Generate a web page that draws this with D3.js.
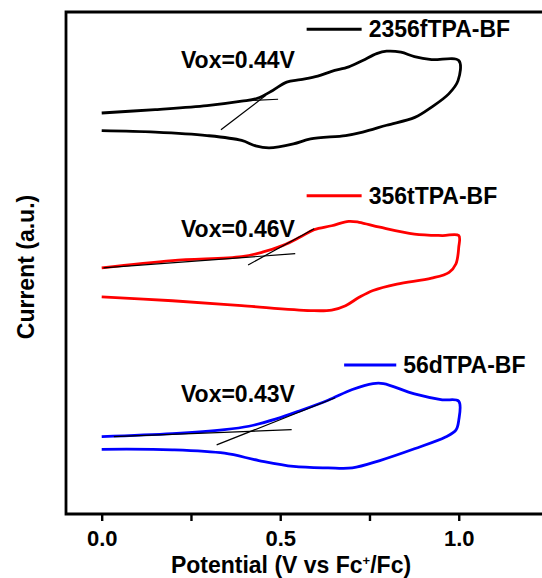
<!DOCTYPE html>
<html>
<head>
<meta charset="utf-8">
<script src="https://cdn.jsdelivr.net/npm/d3@7"></script>
<style>
  body { margin: 0; background: #fff; }
  text { font-family: "Liberation Sans", Arial, sans-serif; font-weight: bold; fill: #000; }
</style>
</head>
<body>
<svg id="chart"></svg>
<script>
// potential (V vs Fc+/Fc) and current (a.u., offset per sample)
const names = ["2356fTPA-BF", "356tTPA-BF", "56dTPA-BF"];
const colors = ["#000000", "#ff0000", "#0000ff"];
const voxLabels = ["Vox=0.44V", "Vox=0.46V", "Vox=0.43V"];

const blackV = [0, 0.15, 0.295, 0.392, 0.436, 0.479, 0.518, 0.557, 0.605, 0.644, 0.692, 0.731, 0.77, 0.798, 0.838, 0.876, 0.924, 1.0,
                0.998, 0.972, 0.924, 0.877, 0.798, 0.731, 0.683, 0.585, 0.537, 0.469, 0.431, 0.392, 0.295, 0.15, 0];
const blackI = [8.18, 8.25, 8.33, 8.42, 8.48, 8.64, 8.81, 8.86, 8.93, 9.03, 9.12, 9.25, 9.39, 9.44, 9.42, 9.33, 9.27, 9.25,
                8.84, 8.57, 8.30, 8.09, 7.93, 7.79, 7.72, 7.65, 7.55, 7.47, 7.51, 7.62, 7.72, 7.79, 7.82];

const redV = [0, 0.198, 0.392, 0.45, 0.508, 0.556, 0.595, 0.644, 0.692, 0.721, 0.779, 0.876, 0.954, 1.0,
              1.0, 0.992, 0.973, 0.924, 0.827, 0.76, 0.721, 0.683, 0.644, 0.585, 0.392, 0.198, 0];
const redI = [5.02, 5.17, 5.25, 5.34, 5.48, 5.65, 5.80, 5.88, 5.97, 5.95, 5.85, 5.71, 5.68, 5.68,
              5.44, 5.10, 4.93, 4.81, 4.69, 4.56, 4.42, 4.25, 4.16, 4.15, 4.25, 4.35, 4.43];

const blueV = [0, 0.198, 0.344, 0.412, 0.489, 0.557, 0.634, 0.702, 0.76, 0.789, 0.876, 0.954, 1.0,
               1.0, 0.992, 0.963, 0.876, 0.779, 0.702, 0.634, 0.537, 0.44, 0.344, 0.198, 0];
const blueI = [1.58, 1.64, 1.72, 1.79, 1.94, 2.11, 2.32, 2.54, 2.66, 2.66, 2.45, 2.33, 2.30,
               1.91, 1.71, 1.57, 1.33, 1.09, 0.94, 0.94, 0.97, 1.09, 1.24, 1.31, 1.32];

// onset tangent lines: [[V1, I1], [V2, I2]]
const baseLines = [[[0.416, 8.435], [0.494, 8.46]], [[0.005, 5.02], [0.542, 5.31]], [[0.034, 1.58], [0.532, 1.72]]];
const slopeLines = [[[0.334, 7.84], [0.46, 8.54]], [[0.41, 5.08], [0.595, 5.82]], [[0.322, 1.41], [0.654, 2.37]]];

const xTicks = [0, 0.25, 0.5, 0.75, 1.0, 1.25];
const xTickLabels = ["0.0", "", "0.5", "", "1.0", ""];

const W = 542, H = 578;
const svg = d3.select("#chart").attr("width", W).attr("height", H);

const x = d3.scaleLinear().domain([-0.1, 1.25]).range([66, 548]);
const y = d3.scaleLinear().domain([0, 10.24]).range([514, 12]);

const series = [
  d3.zip(blackV, blackI),
  d3.zip(redV, redI),
  d3.zip(blueV, blueI)
];

const line = d3.line()
  .x(d => x(d[0]))
  .y(d => y(d[1]))
  .curve(d3.curveCatmullRom.alpha(0.5));

svg.selectAll("path.cv")
  .data(series)
  .enter()
  .append("path")
  .attr("class", "cv")
  .attr("d", line)
  .attr("fill", "none")
  .attr("stroke", (d, i) => colors[i])
  .attr("stroke-width", 2.8)
  .attr("stroke-linejoin", "round");

const straight = d3.line().x(d => x(d[0])).y(d => y(d[1]));
svg.selectAll("path.tan")
  .data(baseLines.concat(slopeLines))
  .enter()
  .append("path")
  .attr("class", "tan")
  .attr("d", straight)
  .attr("stroke", "#000")
  .attr("stroke-width", 1.2);

// frame
svg.append("path")
  .attr("d", "M" + x(1.25) + "," + y(10.24) + "H" + x(-0.1) + "V" + y(0) + "H" + x(1.25))
  .attr("fill", "none")
  .attr("stroke", "#000")
  .attr("stroke-width", 2.8);

const xAxis = d3.axisBottom(x)
  .tickValues(xTicks)
  .tickSize(7)
  .tickFormat((d, i) => xTickLabels[i]);

const gx = svg.append("g")
  .attr("transform", "translate(0," + y(0) + ")")
  .call(xAxis);
gx.select(".domain").remove();
gx.selectAll(".tick line").attr("stroke", "#000").attr("stroke-width", 2.4);
gx.selectAll(".tick text")
  .attr("y", 32)
  .attr("dy", "0")
  .style("font-size", "22px")
  .style("font-family", "'Liberation Sans', Arial, sans-serif")
  .style("font-weight", "bold");

// axis titles
const xt = svg.append("text")
  .attr("x", 291)
  .attr("y", 573)
  .attr("text-anchor", "middle")
  .style("font-size", "23px");
xt.append("tspan").text("Potential (V vs Fc");
xt.append("tspan").attr("dy", -8).style("font-size", "13px").text("+");
xt.append("tspan").attr("dy", 8).text("/Fc)");

svg.append("text")
  .attr("transform", "translate(34,267) rotate(-90)")
  .attr("text-anchor", "middle")
  .style("font-size", "23px")
  .text("Current (a.u.)");

// legends
const legendY = [9.89, 6.49, 3.04];
const legendX = [[0.574, 0.728], [0.574, 0.728], [0.679, 0.825]];
names.forEach((n, i) => {
  svg.append("line")
    .attr("x1", x(legendX[i][0])).attr("x2", x(legendX[i][1]))
    .attr("y1", y(legendY[i])).attr("y2", y(legendY[i]))
    .attr("stroke", colors[i])
    .attr("stroke-width", 3);
  svg.append("text")
    .attr("x", x(legendX[i][1]) + 7)
    .attr("y", y(legendY[i]) + 8)
    .style("font-size", "23px")
    .text(n);
});

// onset labels
const voxI = [9.09, 5.66, 2.28];
voxLabels.forEach((t, i) => {
  svg.append("text")
    .attr("x", x(0.222))
    .attr("y", y(voxI[i]))
    .style("font-size", "23px")
    .text(t);
});
</script>
</body>
</html>
